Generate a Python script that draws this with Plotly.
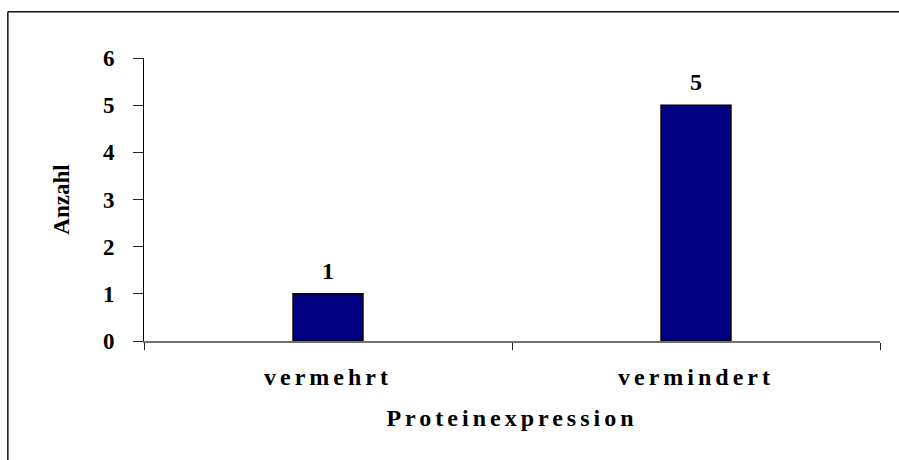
import plotly.graph_objects as go

# Data
categories = ["vermehrt", "vermindert"]
counts = [1, 5]
y_ticks = [0, 1, 2, 3, 4, 5, 6]

x_title = "Proteinexpression"
y_title = "Anzahl"

FONT = "Liberation Serif"
BAR_COLOR = "#000080"

fig = go.Figure()
fig.add_trace(go.Bar(
    x=categories,
    y=counts,
    marker=dict(color=BAR_COLOR, line=dict(color="black", width=1.5)),
    hoverinfo="skip",
    showlegend=False,
))

# value labels above the bars
for cat, val in zip(categories, counts):
    fig.add_annotation(
        x=cat, y=val, xref="x", yref="y",
        text=f"<b>{val}</b>", showarrow=False,
        yanchor="bottom", yshift=8,
        font=dict(family=FONT, size=24, color="black"),
    )

# outer frame: only the left and top edges fall inside the figure
frame = dict(color="#111111", width=1.5)
fig.add_shape(type="line", xref="paper", yref="paper",
              x0=-0.185, x1=-0.185, y0=-0.6, y1=1.163, line=frame, layer="above")
fig.add_shape(type="line", xref="paper", yref="paper",
              x0=-0.185, x1=1.6, y0=1.163, y1=1.163, line=frame, layer="above")

fig.update_layout(
    width=899, height=460, autosize=False,
    margin=dict(l=144, r=19, t=58, b=119, pad=0),
    paper_bgcolor="white", plot_bgcolor="white",
    bargap=0.81,
    font=dict(family=FONT, color="black"),
    xaxis=dict(
        type="category",
        showline=True, linecolor="#707070", linewidth=1.5,
        ticks="outside", tickson="boundaries", ticklen=7,
        tickcolor="#222222", tickwidth=1,
        tickfont=dict(family=FONT, size=24, color="black", weight="bold"),
        ticklabelstandoff=14,
        showgrid=False, zeroline=False,
        title=dict(text=x_title, standoff=20,
                   font=dict(family=FONT, size=24, color="black", weight="bold")),
    ),
    yaxis=dict(
        range=[0, 6], tickvals=y_ticks,
        showline=True, linecolor="black", linewidth=1,
        ticks="outside", ticklen=10, tickcolor="#222222", tickwidth=1,
        tickfont=dict(family=FONT, size=23, color="black", weight="bold"),
        ticklabelstandoff=14,
        showgrid=False, zeroline=False,
        title=dict(text=y_title, standoff=26,
                   font=dict(family=FONT, size=23, color="black", weight="bold")),
    ),
)

page_js = """
document.documentElement.style.overflow = 'hidden';
document.body.style.overflow = 'hidden';
document.body.style.margin = '0';
document.querySelectorAll('.xtick text, .xtitle').forEach(function(el){
    el.style.letterSpacing = '4px';
});
"""

fig.write_html("out.html", post_script=page_js,
               config={"displayModeBar": False, "staticPlot": True})
